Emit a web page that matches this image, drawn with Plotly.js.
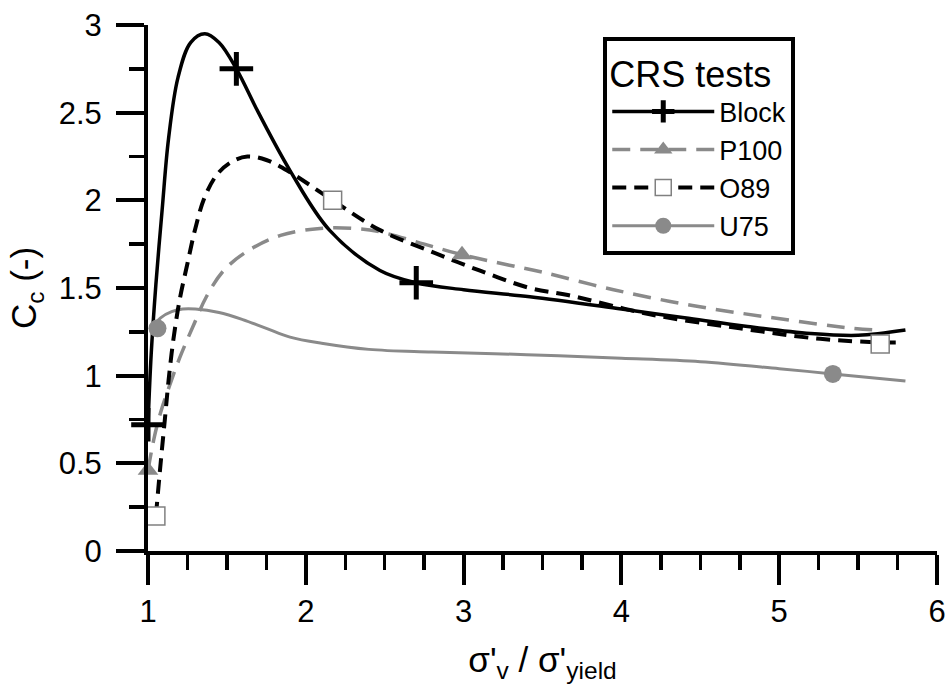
<!DOCTYPE html>
<html>
<head>
<meta charset="utf-8">
<script src="https://cdn.plot.ly/plotly-3.0.1.min.js"></script>
<style>html,body{margin:0;padding:0;background:#fff;}#chart{width:949px;height:692px;}</style>
</head>
<body>
<div id="chart"></div>
<script>
// ---- Data ----
const seriesNames = ["Block", "P100", "O89", "U75"];

const blockX = [1.0, 1.02, 1.05, 1.09, 1.13, 1.19, 1.27, 1.36, 1.45, 1.56, 1.7, 1.9, 2.15, 2.47, 2.7, 3.0, 3.42, 4.0, 4.4, 4.8, 5.2, 5.5, 5.8];
const blockY = [0.72, 1.12, 1.52, 1.95, 2.35, 2.7, 2.9, 2.95, 2.9, 2.75, 2.5, 2.17, 1.83, 1.6, 1.53, 1.49, 1.45, 1.38, 1.33, 1.28, 1.24, 1.23, 1.26];
const blockMarkX = [1.0, 1.56, 2.7];
const blockMarkY = [0.72, 2.75, 1.53];

const p100X = [1.0, 1.04, 1.08, 1.12, 1.2, 1.285, 1.37, 1.48, 1.63, 1.84, 2.09, 2.3, 2.47, 2.79, 2.99, 3.29, 3.5, 3.95, 4.45, 4.96, 5.47, 5.65];
const p100Y = [0.46, 0.65, 0.79, 0.9, 1.1, 1.28, 1.45, 1.6, 1.71, 1.8, 1.84, 1.84, 1.82, 1.74, 1.69, 1.63, 1.59, 1.49, 1.4, 1.33, 1.27, 1.26];
const p100MarkX = [1.0, 2.99];
const p100MarkY = [0.46, 1.69];

const o89X = [1.05, 1.08, 1.11, 1.13, 1.16, 1.2, 1.25, 1.3, 1.36, 1.44, 1.53, 1.63, 1.75, 1.9, 2.17, 2.47, 2.79, 3.1, 3.42, 3.66, 4.18, 4.75, 5.26, 5.64, 5.78];
const o89Y = [0.2, 0.5, 0.78, 0.97, 1.2, 1.43, 1.64, 1.84, 2.02, 2.15, 2.22, 2.25, 2.23, 2.16, 2.0, 1.83, 1.71, 1.6, 1.5, 1.46, 1.35, 1.27, 1.21, 1.19, 1.19];
const o89MarkX = [1.05, 2.17, 5.64];
const o89MarkY = [0.2, 2.0, 1.18];

const u75X = [1.025, 1.08, 1.15, 1.22, 1.3, 1.45, 1.6, 1.75, 1.9, 2.1, 2.4, 2.8, 3.4, 4.0, 4.5, 5.0, 5.34, 5.8];
const u75Y = [1.27, 1.33, 1.365, 1.38, 1.38, 1.36, 1.32, 1.27, 1.22, 1.185, 1.15, 1.135, 1.12, 1.1, 1.08, 1.04, 1.01, 0.97];
const u75MarkX = [1.06, 5.34];
const u75MarkY = [1.27, 1.01];

const xTickVals = [1, 2, 3, 4, 5, 6];
const yTickVals = [0, 0.5, 1, 1.5, 2, 2.5, 3];
const yTickText = ["0", "0.5", "1", "1.5", "2", "2.5", "3"];

// ---- Helpers ----
function withGaps(arr) {
  const out = [];
  arr.forEach((v, i) => { if (i) out.push(null); out.push(v); });
  return out;
}

const GRAY = "#8a8a8a";
const styles = {
  Block: {line: {color: "black", width: 3.5, dash: "solid"},
          marker: {symbol: "cross-thin", size: 24, color: "black", line: {color: "black", width: 5}}},
  P100:  {line: {color: GRAY, width: 3.5, dash: "18px,10px"},
          marker: {symbol: "triangle-up", size: 18, color: GRAY, line: {color: GRAY, width: 0}}},
  O89:   {line: {color: "black", width: 4, dash: "14px,8px"},
          marker: {symbol: "square", size: 18, color: "white", line: {color: "#808080", width: 1.5}}},
  U75:   {line: {color: GRAY, width: 3, dash: "solid"},
          marker: {symbol: "circle", size: 18, color: GRAY, line: {color: GRAY, width: 0}}}
};

const curves = {
  Block: [blockX, blockY, blockMarkX, blockMarkY],
  P100: [p100X, p100Y, p100MarkX, p100MarkY],
  O89: [o89X, o89Y, o89MarkX, o89MarkY],
  U75: [u75X, u75Y, u75MarkX, u75MarkY]
};

const traces = [];
["U75", "P100", "O89", "Block"].forEach(name => {
  const [x, y] = curves[name];
  traces.push({
    x: x, y: y, type: "scatter", mode: "lines",
    line: Object.assign({shape: "spline", smoothing: 1}, styles[name].line),
    showlegend: false, hoverinfo: "skip"
  });
});
seriesNames.forEach(name => {
  const [, , mx, my] = curves[name];
  traces.push({
    x: withGaps(mx), y: withGaps(my), type: "scatter", mode: "lines+markers",
    name: name, connectgaps: false, cliponaxis: false,
    line: styles[name].line, marker: styles[name].marker
  });
});

const FONT = "Liberation Sans, Arial, sans-serif";

const layout = {
  width: 949, height: 692,
  margin: {l: 148, r: 12, t: 25, b: 141},
  paper_bgcolor: "white", plot_bgcolor: "white",
  font: {family: FONT, color: "black"},
  showlegend: true,
  legend: {
    x: 0.577, y: 0.978, xanchor: "left", yanchor: "top",
    bgcolor: "white", bordercolor: "black", borderwidth: 4,
    font: {family: FONT, size: 27, color: "black"},
    title: {text: "CRS tests", font: {family: FONT, size: 36, color: "black"}, side: "top"},
    itemsizing: "trace", itemwidth: 102, tracegroupgap: 0,
    traceorder: "normal"
  },
  xaxis: {
    range: [1, 6], showgrid: false, zeroline: false,
    showline: true, linecolor: "black", linewidth: 4, mirror: false,
    ticks: "outside", ticklen: 30, tickwidth: 4, tickcolor: "black",
    tickvals: xTickVals, ticktext: xTickVals.map(String),
    tickfont: {family: FONT, size: 31, color: "black"},
    minor: {dtick: 0.25, tick0: 1, ticks: "outside", ticklen: 15, tickwidth: 3.5, tickcolor: "black"},
    title: {text: "σ'<sub>v</sub> / σ'<sub>yield</sub>", font: {family: FONT, size: 35, color: "black"}, standoff: 20}
  },
  yaxis: {
    range: [0, 3], showgrid: false, zeroline: false,
    showline: true, linecolor: "black", linewidth: 4,
    ticks: "outside", ticklen: 28, tickwidth: 4, tickcolor: "black",
    tickvals: yTickVals, ticktext: yTickText,
    tickfont: {family: FONT, size: 31, color: "black"},
    ticklabelstandoff: 8,
    minor: {dtick: 0.25, tick0: 0, ticks: "outside", ticklen: 15, tickwidth: 3.5, tickcolor: "black"},
    title: {text: "C<sub>c</sub> (-)", font: {family: FONT, size: 35, color: "black"}, standoff: 12}
  }
};

Plotly.newPlot("chart", traces, layout, {displayModeBar: false, staticPlot: true});
</script>
</body>
</html>
